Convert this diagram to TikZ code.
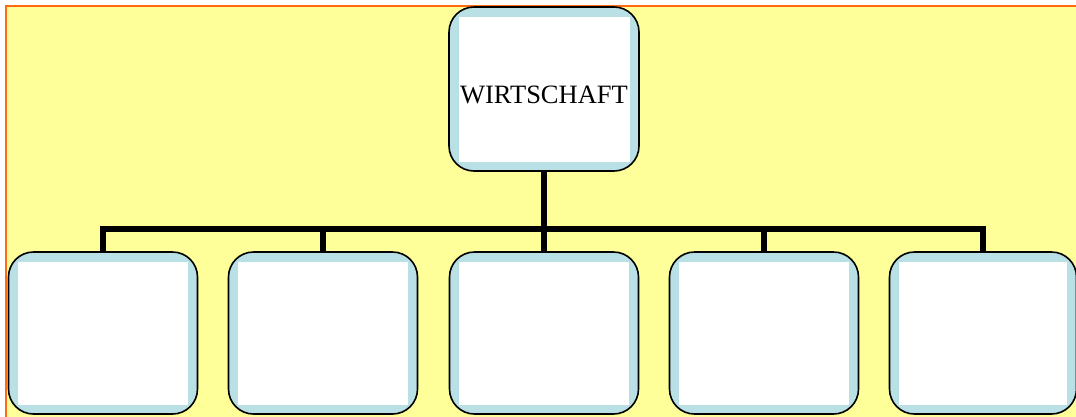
\documentclass[tikz,border=0pt]{standalone}
\usepackage{fontspec}
\setmainfont{Liberation Serif}
\usetikzlibrary{calc}
\definecolor{pageyellow}{HTML}{FFFF99}
\definecolor{frameorange}{HTML}{FF6A13}
\definecolor{boxblue}{HTML}{B9E0E4}
\tikzset{
  orgbox/.style={draw=black, line width=1.6pt, fill=boxblue, rounded corners=25pt,
    minimum width=189pt, minimum height=162pt, inner sep=0pt,
    path picture={\fill[white, sharp corners]
      ($(path picture bounding box.south west)+(9.5pt,9.5pt)$) rectangle
      ($(path picture bounding box.north east)+(-9.5pt,-9.5pt)$);}},
  boxtext/.style={font=\fontsize{26.5}{30}\selectfont, yshift=-6pt},
  link/.style={line width=6pt, draw=black}
}
\begin{document}
\begin{tikzpicture}[x=1pt,y=-1pt]
\useasboundingbox (0,0) rectangle (1076,416);
% page background and frame
\fill[pageyellow] (6,6) rectangle (1080,420);
\draw[frameorange, line width=2pt] (6,420) -- (6,6) -- (1080,6);
% boxes
\node[orgbox, minimum width=190pt, minimum height=164pt,
      label={[boxtext]center:WIRTSCHAFT}] (top) at (544,89) {};
\node[orgbox] (b1) at (103,333) {};
\node[orgbox] (b2) at (323,333) {};
\node[orgbox] (b3) at (544,333) {};
\node[orgbox] (b4) at (764,333) {};
\node[orgbox, minimum width=187pt] (b5) at (983,333) {};
% connectors
\coordinate (bus) at (544,228.5);
\draw[link] (top.south) -- (bus);
\draw[link] (b1.north) |- (bus);
\draw[link] (b5.north) |- (bus);
\foreach \b in {b2,b3,b4}{\draw[link] (\b.north) -- (\b.north |- bus);}
\end{tikzpicture}
\end{document}
